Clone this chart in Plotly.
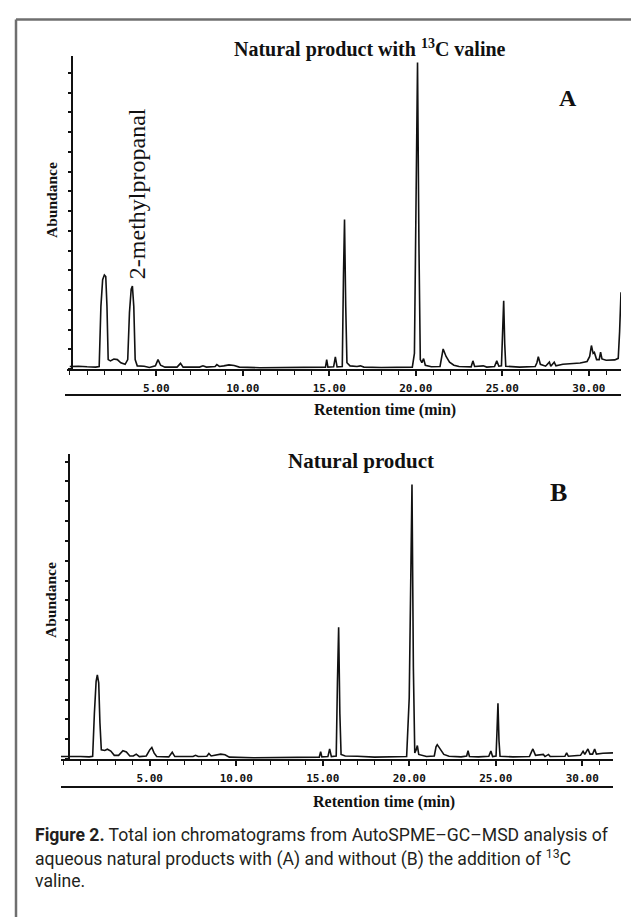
import plotly.graph_objects as go

W, H = 639, 917

# ---------------- data ----------------
# Chromatogram A: natural product with 13C valine (abundance, % of axis height)
time_a = [0.0, 0.5, 1.0, 1.5, 1.70, 1.80, 1.90, 2.00, 2.08, 2.15, 2.22, 2.35, 2.55, 2.75, 2.95,
          3.20, 3.35, 3.45, 3.55, 3.62, 3.70, 3.78, 3.90, 4.30, 4.60, 4.95, 5.10, 5.25, 5.50,
          6.20, 6.40, 6.55, 7.50, 7.70, 7.90, 8.40, 8.50, 8.65, 8.90, 9.20, 9.50, 9.80, 11.0,
          13.0, 14.6, 14.78, 14.85, 14.92, 15.25, 15.35, 15.45, 15.75, 15.82, 15.88, 15.95,
          16.02, 16.2, 16.6, 16.8, 17.0, 18.0, 19.0, 19.8, 19.92, 20.02, 20.10, 20.18, 20.26,
          20.35, 20.45, 20.55, 20.9, 21.4, 21.5, 21.58, 21.75, 21.95, 22.2, 22.5, 23.2, 23.3,
          23.4, 23.9, 24.1, 24.55, 24.68, 24.8, 24.95, 25.02, 25.08, 25.14, 25.2, 26.0, 26.9,
          27.0, 27.08, 27.2, 27.5, 27.72, 27.8, 28.0, 28.1, 28.5, 29.0, 29.5, 29.9, 30.05,
          30.15, 30.25, 30.32, 30.45, 30.6, 30.68, 30.76, 31.0, 31.5, 31.7, 31.78, 31.86]
abund_a = [0.8, 0.9, 0.7, 0.6, 0.8, 20, 28.5, 30.0, 29.5, 20, 3.0, 2.6, 3.2, 3.0, 2.0,
           1.5, 3.0, 18, 25.5, 26.5, 20, 3.0, 1.0, 0.9, 0.5, 1.0, 3.0, 1.2, 0.6,
           0.6, 1.8, 0.6, 0.6, 1.0, 0.6, 0.8, 1.4, 0.8, 1.0, 1.3, 1.1, 0.6, 0.4,
           0.4, 0.5, 0.6, 3.0, 0.6, 0.7, 3.9, 0.7, 0.8, 30, 47.7, 20,
           2.0, 1.0, 0.8, 1.0, 0.6, 0.5, 0.6, 0.6, 5, 60, 97.8, 40, 3.0,
           2.0, 3.3, 1.2, 0.7, 0.8, 4.5, 6.4, 4.0, 2.2, 1.2, 0.8, 0.7, 2.6,
           0.8, 1.0, 0.6, 0.8, 2.6, 0.9, 1.0, 10, 21.8, 8, 0.9, 0.6, 0.8,
           2.0, 3.9, 1.5, 0.9, 2.2, 0.9, 2.2, 1.0, 1.5, 1.6, 1.9, 2.4, 4.0,
           7.5, 5.0, 5.3, 3.0, 3.0, 5.4, 3.2, 2.8, 2.9, 3.4, 12, 24.5]

# Chromatogram B: natural product
time_b = [-0.13, 0.5, 1.0, 1.5, 1.70, 1.80, 1.90, 1.97, 2.05, 2.12, 2.20, 2.40, 2.55, 2.75,
          2.95, 3.2, 3.45, 3.65, 3.85, 4.05, 4.22, 4.40, 4.80, 5.00, 5.12, 5.25, 5.40, 6.1,
          6.3, 6.45, 7.5, 7.65, 7.8, 8.3, 8.42, 8.55, 8.85, 9.10, 9.35, 9.6, 11.0, 13.0, 14.6,
          14.8, 14.88, 14.95, 15.3, 15.4, 15.5, 15.78, 15.85, 15.92, 15.99, 16.06, 16.3, 16.8,
          17.0, 18.0, 19.0, 19.85, 20.0, 20.1, 20.16, 20.24, 20.32, 20.4, 20.47, 20.55, 21.0,
          21.45, 21.55, 21.62, 21.8, 22.0, 22.3, 23.0, 23.32, 23.4, 23.48, 24.0, 24.6, 24.72,
          24.82, 25.02, 25.08, 25.13, 25.19, 25.25, 26.0, 26.95, 27.08, 27.15, 27.3, 27.75,
          27.85, 28.05, 28.15, 29.0, 29.1, 29.2, 29.9, 30.05, 30.15, 30.33, 30.45, 30.6,
          30.72, 30.82, 31.2, 31.78]
abund_b = [0.8, 0.9, 0.8, 0.7, 0.9, 15, 25.5, 27.6, 25, 12, 3.0, 2.8, 3.2, 2.6,
           1.2, 1.2, 2.7, 2.3, 1.0, 1.0, 1.6, 0.8, 1.0, 3.0, 3.8, 2.0, 0.8, 0.7,
           2.2, 0.8, 0.8, 1.2, 0.8, 0.9, 1.8, 1.0, 1.4, 1.6, 1.4, 0.6, 0.4, 0.4, 0.5,
           0.6, 2.4, 0.7, 0.8, 3.3, 0.8, 1.0, 25, 43.2, 15, 1.5, 1.0, 0.8,
           0.9, 0.6, 0.6, 0.8, 20, 70, 90, 30, 2.0, 3.0, 4.4, 1.5, 0.8,
           1.0, 4.0, 4.7, 3.0, 1.5, 0.9, 0.7, 1.0, 2.7, 0.8, 0.7, 0.9, 2.6,
           0.8, 1.0, 10, 18.3, 6, 0.9, 0.7, 0.8, 2.5, 3.3, 1.2, 1.5,
           0.8, 1.5, 0.8, 0.9, 2.0, 0.9, 1.2, 2.5, 1.5, 3.3, 1.6, 1.6,
           3.3, 1.6, 1.9, 2.0]

tick_vals = [5, 10, 15, 20, 25, 30]
tick_text = ["5.00", "10.00", "15.00", "20.00", "25.00", "30.00"]

caption_lines = [
    "<b>Figure 2.</b> Total ion chromatograms from AutoSPME–GC–MSD analysis of",
    "aqueous natural products with (A) and without (B) the addition of <sup>13</sup>C",
    "valine.",
]

# ---------------- layout helpers (pixel -> paper) ----------------
def px(x):
    return x / W

def py(y):
    return 1 - y / H

SERIF = "Liberation Serif, Times New Roman, serif"
MONO = "DejaVu Sans Mono, monospace"
CAPTION_FONT = "Roboto, Lato, sans-serif"

fig = go.Figure()
fig.add_trace(go.Scatter(x=time_a, y=abund_a, mode="lines", xaxis="x", yaxis="y",
                         line=dict(color="#111", width=1.6), showlegend=False, hoverinfo="skip"))
fig.add_trace(go.Scatter(x=time_b, y=abund_b, mode="lines", xaxis="x2", yaxis="y2",
                         line=dict(color="#111", width=1.6), showlegend=False, hoverinfo="skip"))

def xaxis_cfg(dom, rng, anchor):
    return dict(domain=dom, range=rng, anchor=anchor, showgrid=False, zeroline=False,
                showline=True, linecolor="#111", linewidth=2,
                tickmode="array", tickvals=tick_vals, ticktext=tick_text,
                ticks="outside", ticklen=5, tickwidth=1.5, tickcolor="#111",
                ticklabelstandoff=3,
                tickfont=dict(family=MONO, size=11, color="#111", weight="bold"),
                minor=dict(tickmode="linear", tick0=0, dtick=1, ticks="outside",
                           ticklen=4, tickwidth=1.2, tickcolor="#111"))

def yaxis_cfg(dom, pos, dt):
    return dict(domain=dom, range=[0, 100], anchor="free", position=pos, showgrid=False,
                zeroline=False, showline=True, linecolor="#111", linewidth=2,
                showticklabels=False, ticks="outside", ticklen=3, tickwidth=1.5,
                tickcolor="#111", tickmode="linear", tick0=0, dtick=dt)

fig.update_layout(
    width=W, height=H, margin=dict(l=0, r=0, t=0, b=0),
    paper_bgcolor="white", plot_bgcolor="white",
    xaxis=xaxis_cfg([px(59), px(613)], [-0.16, 31.86], "y"),
    yaxis=yaxis_cfg([py(361), py(47.7)], px(64), 6.3),
    xaxis2=xaxis_cfg([px(53), px(605)], [-0.13, 31.78], "y2"),
    yaxis2=yaxis_cfg([py(751), py(446)], px(61), 6.5),
)

ann = []
def text(x, y, s, size, family=SERIF, angle=0, xa="center", ya="middle", color="#111", align="center"):
    ann.append(dict(x=px(x), y=py(y), xref="paper", yref="paper", text=s, showarrow=False,
                    font=dict(family=family, size=size, color=color), textangle=angle,
                    xanchor=xa, yanchor=ya, align=align))

text(362, 41, "<b>Natural product with <sup>13</sup>C valine</b>", 20)
text(560, 90, "<b>A</b>", 24)
text(44, 192, "<b>Abundance</b>", 15.5, angle=-90)
text(377, 402, "<b>Retention time (min)</b>", 16)

text(353, 453, "<b>Natural product</b>", 21)
text(550, 484, "<b>B</b>", 26)
text(42, 592, "<b>Abundance</b>", 15.5, angle=-90)
text(376, 794, "<b>Retention time (min)</b>", 16)

# peak label in chart A (anchored to data coordinates of the peak)
ann.append(dict(x=3.85, y=28, xref="x", yref="y", text="2-methylpropanal", showarrow=False,
                font=dict(family=SERIF, size=24, color="#111"), textangle=-90,
                xanchor="center", yanchor="bottom"))

for i, line in enumerate(caption_lines):
    text(25, 827 + 23 * i, line, 17.6, family=CAPTION_FONT, xa="left", color="#231f20", align="left")

fig.update_layout(annotations=ann)

shapes = [
    # frame
    dict(type="line", xref="paper", yref="paper", x0=px(8), x1=1, y0=py(11.5), y1=py(11.5),
         line=dict(color="#6f6f6f", width=2.5)),
    dict(type="line", xref="paper", yref="paper", x0=px(8), x1=px(8), y0=py(11.5), y1=0,
         line=dict(color="#6f6f6f", width=2.5)),
    # rules under the tick labels
    dict(type="line", xref="paper", yref="paper", x0=px(57), x1=px(613), y0=py(387), y1=py(387),
         line=dict(color="#111", width=2)),
    dict(type="line", xref="paper", yref="paper", x0=px(53), x1=px(605), y0=py(779), y1=py(779),
         line=dict(color="#111", width=2)),
]
fig.update_layout(shapes=shapes)

fig.write_html("out.html")
